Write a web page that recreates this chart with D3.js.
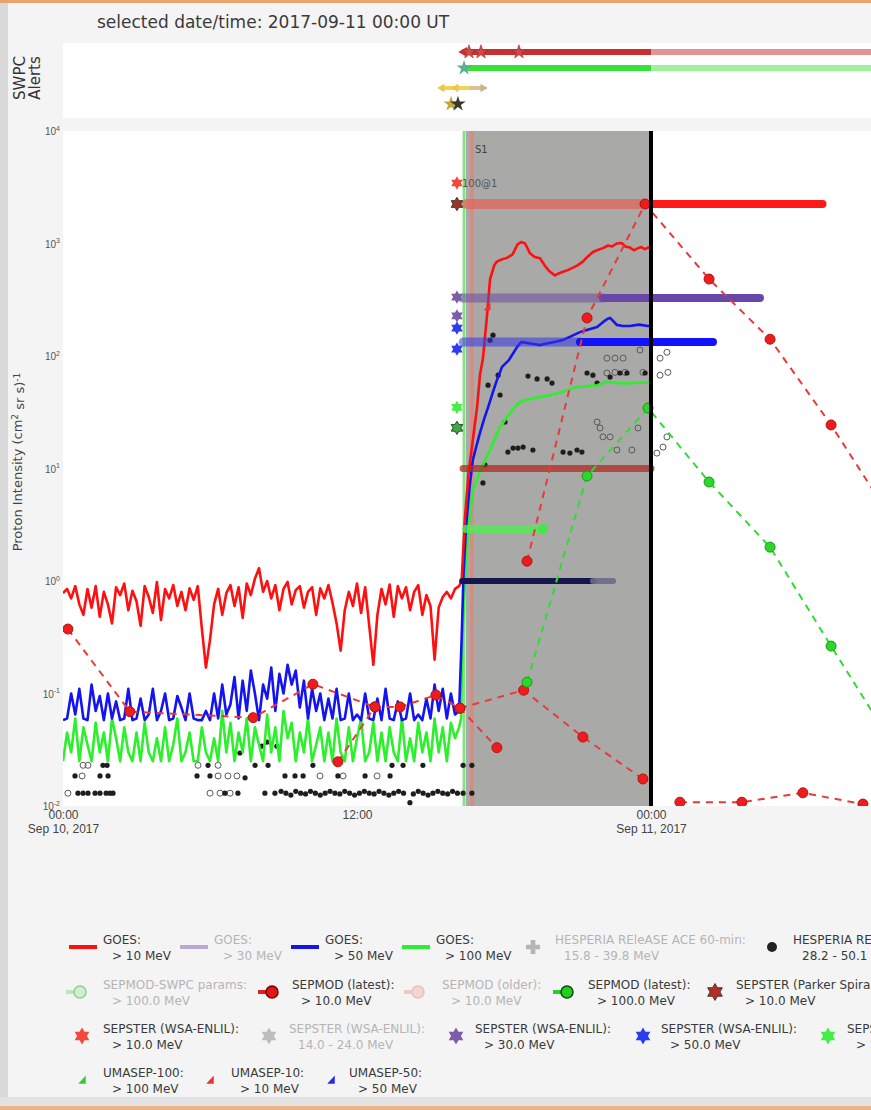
<!DOCTYPE html>
<html>
<head>
<meta charset="utf-8">
<script src="https://cdn.jsdelivr.net/npm/d3@7"></script>
<style>
  body { margin: 0; background: #f3f3f3; }
  svg { display: block; font-family: "DejaVu Sans", Verdana, sans-serif; }
</style>
</head>
<body>
<svg id="chart" width="871" height="1110"></svg>
<script>
// ---------------------------------------------------------------------------
// Proton event of 2017-09-10: observed fluxes and forecasts
// times are hours since 2017-09-10 00:00 UT, fluxes in pfu
// ---------------------------------------------------------------------------
const selectedTime = "2017-09-11 00:00 UT";

// GOES integral proton flux before onset, 10-minute samples from 00:00 UT
const goes10Quiet = [
  0.78,0.85,0.70,0.90,0.62,0.50,0.85,0.58,0.90,0.48,
  0.80,0.62,0.42,0.88,0.75,0.95,0.55,0.82,0.66,0.40,
  0.90,0.72,0.52,0.98,0.45,0.85,0.70,0.92,0.60,0.80,
  0.55,0.86,0.68,0.90,0.38,0.17,0.30,0.62,0.85,0.50,
  0.78,0.92,0.60,0.88,0.47,0.95,0.75,1.05,1.30,0.80,
  1.00,0.70,0.92,0.55,0.85,0.98,0.62,0.83,0.90,0.58,
  0.80,0.88,0.50,0.86,0.70,0.92,0.64,0.42,0.24,0.55,
  0.80,0.60,0.95,0.52,0.88,0.40,0.18,0.50,0.85,0.62,
  0.93,0.48,0.90,0.70,0.88,0.55,0.80,0.92,0.50,0.75,
  0.60,0.20,0.58,0.72,0.80,0.70,0.85,0.90
];
const goes50Quiet = [
  0.058,0.060,0.100,0.065,0.110,0.060,0.058,0.120,0.070,0.095,
  0.058,0.100,0.060,0.085,0.058,0.060,0.110,0.058,0.060,0.090,
  0.058,0.065,0.110,0.058,0.070,0.100,0.058,0.060,0.095,0.075,
  0.058,0.100,0.060,0.058,0.058,0.070,0.058,0.100,0.060,0.120,
  0.065,0.080,0.140,0.060,0.130,0.070,0.160,0.100,0.058,0.120,
  0.090,0.170,0.070,0.150,0.100,0.180,0.120,0.160,0.075,0.130,
  0.060,0.110,0.070,0.100,0.058,0.090,0.060,0.110,0.058,0.060,
  0.100,0.058,0.065,0.058,0.100,0.060,0.058,0.090,0.058,0.110,
  0.060,0.058,0.085,0.058,0.060,0.100,0.058,0.065,0.058,0.090,
  0.060,0.120,0.070,0.110,0.060,0.100,0.065,0.070
];
const goes100Quiet = [
  0.025,0.045,0.030,0.060,0.025,0.050,0.035,0.025,0.055,0.030,
  0.045,0.025,0.060,0.040,0.025,0.050,0.030,0.025,0.045,0.025,
  0.055,0.030,0.025,0.040,0.025,0.050,0.025,0.035,0.060,0.025,
  0.030,0.045,0.025,0.025,0.050,0.030,0.025,0.040,0.025,0.070,
  0.030,0.055,0.025,0.045,0.030,0.060,0.025,0.050,0.035,0.025,
  0.065,0.030,0.050,0.025,0.070,0.040,0.055,0.025,0.045,0.030,
  0.060,0.025,0.035,0.050,0.025,0.045,0.025,0.060,0.030,0.025,
  0.050,0.025,0.040,0.060,0.025,0.030,0.055,0.025,0.045,0.025,
  0.050,0.030,0.025,0.060,0.025,0.040,0.025,0.055,0.030,0.045,
  0.025,0.060,0.030,0.050,0.025,0.055,0.040,0.050
];

// GOES after onset: [hour, flux]
const goes10Event = [
  [16.27,1.0],[16.4,3.5],[16.55,9],[16.73,18],[16.9,35],[17.02,68],[17.14,95],
  [17.3,220],[17.43,480],[17.6,640],[17.71,690],[17.9,720],[18.12,745],[18.35,800],
  [18.55,980],[18.7,1030],[18.86,1000],[19.06,820],[19.25,760],[19.47,740],[19.7,620],
  [19.88,560],[20.08,520],[20.25,545],[20.41,560],[20.6,580],[20.82,610],[21.0,640],
  [21.22,690],[21.4,760],[21.63,840],[21.85,880],[22.04,910],[22.25,960],[22.41,940],
  [22.6,1000],[22.8,1010],[22.95,940],[23.14,920],[23.3,870],[23.43,900],[23.6,930],
  [23.75,890],[23.88,920],[24.0,910]
];
const goes50Event = [
  [16.27,0.3],[16.35,1.2],[16.45,3],[16.6,7],[16.73,12],[16.88,16],[17.02,20.7],
  [17.2,28],[17.35,35],[17.55,48],[17.71,61],[17.92,80],[18.2,92],[18.4,108],
  [18.53,120],[18.7,133],[18.9,131],[19.2,128],[19.47,125],[19.8,130],[20.1,134],
  [20.41,139],[20.75,150],[21.1,163],[21.45,172],[21.8,181],[22.04,200],[22.2,212],
  [22.33,218],[22.5,200],[22.6,189],[22.85,185],[23.14,185],[23.5,190],[23.88,185],
  [24.0,186]
];
const goes100Event = [
  [16.25,0.06],[16.3,0.3],[16.45,1.6],[16.6,3.8],[16.73,6.4],[17.02,9.4],[17.25,12],
  [17.43,14.6],[17.65,19],[17.84,23.4],[18.04,27],[18.24,31],[18.45,35],[18.57,38],
  [18.86,40.5],[19.2,42],[19.47,43],[19.9,45],[20.4,48],[20.7,51],[20.98,53],
  [21.4,54],[21.8,55],[22.2,58.8],[22.6,57.5],[23.0,57],[23.5,58],[24.0,58]
];

// HESPERIA REleASE forecasts: [hour, flux]
const hesperiaFilled = [
  [1.63,0.023],[1.8,0.023],[5.92,0.023],[7.84,0.023],[8.37,0.023],[10.2,0.023],
  [13.43,0.023],[13.88,0.023],[14.69,0.023],
  [7.22,0.0296],[8.12,0.034],[8.33,0.037],[8.73,0.034],
  [0.49,0.0185],[1.51,0.0185],[1.84,0.0185],[5.47,0.0185],[6.0,0.0185],[7.43,0.0178],
  [9.06,0.0185],[9.47,0.0185],[9.8,0.0185],[11.22,0.0185],[12.33,0.0185],[13.35,0.0185],
  [0.61,0.013],[0.82,0.013],[1.02,0.013],[1.31,0.013],[1.51,0.013],[1.76,0.013],
  [1.92,0.013],[2.04,0.013],[6.61,0.013],[7.14,0.013],[8.24,0.013],
  [8.65,0.013],[8.9,0.0135],[9.1,0.013],[9.3,0.0125],[9.5,0.0135],[9.7,0.013],
  [9.9,0.0128],[10.1,0.0135],[10.3,0.013],[10.5,0.0125],[10.7,0.013],[10.9,0.0135],
  [11.1,0.013],[11.3,0.0128],[11.5,0.0135],[11.7,0.013],[11.9,0.0125],[12.1,0.013],
  [12.3,0.0135],[12.5,0.013],[12.7,0.0128],[12.9,0.0135],[13.1,0.013],[13.3,0.0125],
  [13.5,0.013],[13.7,0.0135],[13.9,0.013],[14.16,0.0107],[14.3,0.0128],[14.5,0.0135],
  [14.7,0.013],[14.9,0.0125],[15.1,0.013],[15.3,0.0135],[15.5,0.013],[15.7,0.0128],
  [15.9,0.0135],[16.1,0.013],
  [16.33,0.023],[16.69,0.023],[16.33,0.013],[16.69,0.013],
  [17.22,10.75],[17.14,7.44],[18.04,25.9],[17.84,45],[17.35,55],[17.76,67.5],
  [18.98,66.3],[19.35,62.5],[19.76,62.5],[19.96,57.5],[21.39,70.6],[21.63,67.5],
  [21.8,57.5],[22.33,65],[22.73,70.6],[23.02,70.6],[23.76,70.6],
  [18.16,14.0],[18.37,15.2],[18.57,15.2],[18.78,15.5],[19.18,14.6],[20.41,14.0],
  [20.69,13.7],[20.98,14.6],[21.18,14.0],[17.55,153],[17.43,138]
];
const hesperiaOpen = [
  [0.82,0.023],[1.02,0.023],[5.51,0.023],[6.33,0.023],
  [0.78,0.0185],[6.33,0.0185],[6.73,0.0185],[7.1,0.0185],[10.49,0.0185],[11.43,0.0185],
  [12.82,0.0185],
  [0.2,0.013],[6.0,0.013],[6.41,0.013],[6.82,0.013],
  [22.2,95.7],[22.53,95.7],[22.86,95.7],[23.55,113],[24.37,95.7],[24.65,108],
  [21.8,25.9],[21.92,22.9],[22.04,19.1],[22.33,19.1],[23.47,22.9],[24.65,19.1],
  [22.61,14.6],[23.22,14.6],[24.24,13.7],[24.49,15.5],
  [22.2,70.6],[22.53,71.5],[22.94,71.5],[23.67,71.5],[24.37,67.5],[24.69,71.5]
];

// SEPMOD runs, > 10 MeV: each run is a list of [hour, flux]
const sepmod10Runs = [
  [[0.2,0.374],[2.73,0.069],[7.76,0.061],[10.2,0.121],[12.73,0.076]],
  [[11.22,0.0247],[12.73,0.076],[13.76,0.076],[15.22,0.097],[16.2,0.074],[17.71,0.033]],
  [[16.2,0.074],[18.8,0.107],[21.22,0.041],[23.67,0.0174]],
  [[25.18,0.0108],[27.71,0.0108],[30.2,0.0131],[32.65,0.0104]],
  [[18.94,1.5],[21.39,218],[23.76,2245],[26.37,483],[28.86,141],[31.35,24.4],[33.84,3.5]]
];
// SEPMOD latest run, > 100 MeV
const sepmod100Latest = [
  [18.94,0.126],[21.39,8.58],[23.88,34.5],[26.37,7.59],[28.86,2.0],[31.35,0.264],[33.84,0.036]
];

// SEPSTER peak predictions at the CME time: [hour, flux]
const sepsterParker10 = [[16.08,2245]];
const sepsterEnlil10 = [[16.08,3450]];
const sepsterEnlil30 = [[16.08,334],[16.08,227]];
const sepsterEnlil50 = [[16.08,177],[16.08,115]];
const sepsterEnlil100 = [[16.08,35]];
const sepsterParker100 = [[16.08,23]];
const umasep10 = [[17.31,273]];

// forecast windows and thresholds: [start hour, end hour, flux]
const bar10Older = [16.49, 23.7, 2245];
const bar10Latest = [23.7, 31.0, 2245];
const bar30Older = [16.29, 22.04, 328];
const bar30Latest = [22.04, 28.45, 328];
const bar50Older = [16.33, 21.1, 133];
const bar50Latest = [21.1, 26.53, 133];
const barS1 = [16.33, 24.0, 10];
const bar100 = [16.45, 19.59, 2.9];
const barOnset = [16.29, 21.63, 1];
const barOnsetTail = [21.63, 22.45, 1];

// event markers
const cmeTime = 16.37;
const onsetTime = 16.69;
const windowStart = 16.45;

// SWPC alerts
const alertS1 = [16.37, 24.0];
const alertS1Stars = [16.57, 17.06, 18.61];
const alertP100 = [16.37, 24.0];
const alertP100Stars = [16.37];
const alertElectron = [15.47, 16.6, 17.14];
const alertStars = [15.84, 16.12];

// axis ticks
const yTicks = [1e-2, 1e-1, 1e0, 1e1, 1e2, 1e3, 1e4];
const xTickHours = [0, 12, 24];
const xTickLabels = [["00:00", "Sep 10, 2017"], ["12:00", ""], ["00:00", "Sep 11, 2017"]];

// legend texts: [title, energy range, shown]
const legendRow1 = [
  ["GOES:", "> 10 MeV", true], ["GOES:", "> 30 MeV", false], ["GOES:", "> 50 MeV", true],
  ["GOES:", "> 100 MeV", true], ["HESPERIA REleASE ACE 60-min:", "15.8 - 39.8 MeV", false],
  ["HESPERIA REleASE ACE 30-min:", "28.2 - 50.1 MeV", true]
];
const legendRow2 = [
  ["SEPMOD-SWPC params:", "> 100.0 MeV", false], ["SEPMOD (latest):", "> 10.0 MeV", true],
  ["SEPMOD (older):", "> 10.0 MeV", false], ["SEPMOD (latest):", "> 100.0 MeV", true],
  ["SEPSTER (Parker Spiral):", "> 10.0 MeV", true]
];
const legendRow3 = [
  ["SEPSTER (WSA-ENLIL):", "> 10.0 MeV", true], ["SEPSTER (WSA-ENLIL):", "14.0 - 24.0 MeV", false],
  ["SEPSTER (WSA-ENLIL):", "> 30.0 MeV", true], ["SEPSTER (WSA-ENLIL):", "> 50.0 MeV", true],
  ["SEPSTER (WSA-ENLIL):", "> 100.0 MeV", true]
];
const legendRow4 = [
  ["UMASEP-100:", "> 100 MeV", true], ["UMASEP-10:", "> 10 MeV", true], ["UMASEP-50:", "> 50 MeV", true]
];

// ---------------------------------------------------------------------------
const BASE = Date.UTC(2017, 8, 10);
const T = h => new Date(BASE + h * 3600e3);

const svg = d3.select("#chart");
const W = 871, H = 1110;
const plotL = 63, plotT = 131, plotB = 806;

const x = d3.scaleUtc().domain([T(0), T(33)]).range([plotL, plotL + 33 * 24.5]);
const y = d3.scaleLog().domain([1e-2, 1e4]).range([plotB, plotT]);
const alertY = d3.scaleLinear().domain([0, 6]).range([132, 36]);

const C = { red: "#ff1010", blue: "#1414f0", green: "#2cf02c", faded: "#b4b4b4" };

// frame
svg.append("rect").attr("width", W).attr("height", H).attr("fill", "#f4f4f4");
svg.append("rect").attr("x", 0).attr("y", 0).attr("width", 8).attr("height", H).attr("fill", "#dadada");
svg.append("rect").attr("x", 0).attr("y", 0).attr("width", W).attr("height", 3).attr("fill", "#e9a46b");
svg.append("rect").attr("x", 0).attr("y", 1097).attr("width", W).attr("height", 9).attr("fill", "#e2e2e2");
svg.append("rect").attr("x", 0).attr("y", 1106).attr("width", W).attr("height", 4).attr("fill", "#eab48a");

// six-pointed star marker
const symbolHexStar = {
  draw(ctx, size) {
    const r = Math.sqrt(size / 1.4), ri = r * 0.58;
    for (let i = 0; i < 12; i++) {
      const a = Math.PI / 6 * i - Math.PI / 2, rr = i % 2 ? ri : r;
      const px = rr * Math.cos(a), py = rr * Math.sin(a);
      i ? ctx.lineTo(px, py) : ctx.moveTo(px, py);
    }
    ctx.closePath();
  }
};
// small right-angled triangle marker
const symbolWedge = {
  draw(ctx, size) {
    const s = Math.sqrt(size) * 0.8;
    ctx.moveTo(-s, s); ctx.lineTo(s, s); ctx.lineTo(s, -s * 1.2); ctx.closePath();
  }
};
const star = d3.symbol().type(symbolHexStar);
const wedge = d3.symbol().type(symbolWedge);

// ---------------- title and alerts panel ----------------
svg.append("text").attr("x", 97).attr("y", 28).attr("fill", "#3a3a3a")
  .attr("font-size", 17).text("selected date/time: " + selectedTime);

svg.append("rect").attr("x", plotL).attr("y", 43).attr("width", W - plotL).attr("height", 75).attr("fill", "#fff");
const alertLabel = svg.append("text").attr("transform", "translate(25,78) rotate(-90)")
  .attr("text-anchor", "middle").attr("fill", "#333").attr("font-size", 15);
alertLabel.append("tspan").attr("x", 0).attr("dy", 0).text("SWPC");
alertLabel.append("tspan").attr("x", 0).attr("dy", 15).text("Alerts");

const alerts = svg.append("g");
function alertBar(span, level, strong, light, width) {
  const yy = alertY(level);
  alerts.append("line").attr("x1", x(T(span[1]))).attr("x2", W).attr("y1", yy).attr("y2", yy)
    .attr("stroke", light).attr("stroke-width", width);
  alerts.append("line").attr("x1", x(T(span[0]))).attr("x2", x(T(span[1]))).attr("y1", yy).attr("y2", yy)
    .attr("stroke", strong).attr("stroke-width", width);
}
alertBar(alertS1, 5, "#c73030", "#e29494", 6);
alerts.append("path").attr("d", d3.symbol().type(d3.symbolTriangle).size(45)())
  .attr("transform", `translate(${x(T(alertS1[0]))},${alertY(5)}) rotate(-90)`).attr("fill", "#c73030");
alertS1Stars.forEach(h => alerts.append("path").attr("d", d3.symbol().type(d3.symbolStar).size(60)())
  .attr("transform", `translate(${x(T(h))},${alertY(5)})`).attr("fill", "#d04848").attr("stroke", "#a03030").attr("stroke-width", 0.6));
alertBar(alertP100, 4, "#36e236", "#9cf29c", 6);
alertP100Stars.forEach(h => alerts.append("path").attr("d", d3.symbol().type(d3.symbolStar).size(70)())
  .attr("transform", `translate(${x(T(h))},${alertY(4)})`).attr("fill", "#58b090"));
{
  const yy = alertY(2.75);
  alerts.append("line").attr("x1", x(T(alertElectron[0]))).attr("x2", x(T(alertElectron[1])))
    .attr("y1", yy).attr("y2", yy).attr("stroke", "#eed35a").attr("stroke-width", 4);
  alerts.append("line").attr("x1", x(T(alertElectron[1]))).attr("x2", x(T(alertElectron[2])))
    .attr("y1", yy).attr("y2", yy).attr("stroke", "#d7c191").attr("stroke-width", 4);
  [alertElectron[0], (alertElectron[0] + alertElectron[1]) / 2].forEach(h =>
    alerts.append("path").attr("d", d3.symbol().type(d3.symbolTriangle).size(30)())
      .attr("transform", `translate(${x(T(h))},${yy}) rotate(-90)`).attr("fill", "#e8c940"));
  alerts.append("path").attr("d", d3.symbol().type(d3.symbolTriangle).size(30)())
    .attr("transform", `translate(${x(T(alertElectron[2]))},${yy}) rotate(90)`).attr("fill", "#c9b48a");
}
alertStars.forEach((h, i) => alerts.append("path").attr("d", d3.symbol().type(d3.symbolStar).size(75)())
  .attr("transform", `translate(${x(T(h))},${alertY(1.75)})`)
  .attr("fill", i ? "#3a3a2a" : "#c9a43a"));

// ---------------- main plot ----------------
const clip = svg.append("clipPath").attr("id", "plotclip");
clip.append("rect").attr("x", plotL).attr("y", plotT).attr("width", W - plotL).attr("height", plotB - plotT);
svg.append("rect").attr("x", plotL).attr("y", plotT).attr("width", W - plotL).attr("height", plotB - plotT).attr("fill", "#fff");

const plot = svg.append("g").attr("clip-path", "url(#plotclip)");

// selected window up to the chosen time
plot.append("rect").attr("x", x(T(windowStart))).attr("y", plotT)
  .attr("width", x(T(24)) - x(T(windowStart))).attr("height", plotB - plotT).attr("fill", "#a9a9a7");
plot.append("line").attr("x1", x(T(cmeTime))).attr("x2", x(T(cmeTime))).attr("y1", plotT).attr("y2", plotB)
  .attr("stroke", "#86e086").attr("stroke-width", 3);
plot.append("line").attr("x1", x(T(onsetTime))).attr("x2", x(T(onsetTime))).attr("y1", plotT).attr("y2", plotB)
  .attr("stroke", "#d98a80").attr("stroke-width", 4).attr("opacity", 0.85);

// HESPERIA points
plot.append("g").selectAll("circle").data(hesperiaOpen).join("circle")
  .attr("cx", d => x(T(d[0]))).attr("cy", d => y(d[1])).attr("r", 3)
  .attr("fill", "none").attr("stroke", "#5a5a5a").attr("stroke-width", 1);
plot.append("g").selectAll("circle").data(hesperiaFilled).join("circle")
  .attr("cx", d => x(T(d[0]))).attr("cy", d => y(d[1])).attr("r", 2.6).attr("fill", "#1e1e1e");

// GOES fluxes
const line = d3.line().x(d => x(T(d[0]))).y(d => y(d[1]));
const withQuiet = (quiet, ev) => quiet.map((v, i) => [i / 6, v]).concat(ev);
[[goes100Quiet, goes100Event, C.green], [goes50Quiet, goes50Event, C.blue], [goes10Quiet, goes10Event, C.red]]
  .forEach(([q, e, c]) => plot.append("path").datum(withQuiet(q, e)).attr("d", line)
    .attr("fill", "none").attr("stroke", c).attr("stroke-width", 2.6).attr("stroke-linejoin", "round"));

// forecast windows and thresholds
function bar(b, color, width, opacity) {
  plot.append("line").attr("x1", x(T(b[0]))).attr("x2", x(T(b[1])))
    .attr("y1", y(b[2])).attr("y2", y(b[2])).attr("stroke", color).attr("stroke-width", width)
    .attr("stroke-opacity", opacity).attr("stroke-linecap", "round");
}
bar(bar10Older, "#e2685c", 10, 0.78);
bar(bar10Latest, "#ff1a1a", 8, 1);
bar(bar30Older, "#6a4a9c", 9, 0.55);
bar(bar30Latest, "#6a46a8", 8, 1);
bar(bar50Older, "#3434e8", 9, 0.55);
bar(bar50Latest, "#1212ff", 8, 1);
bar(barS1, "#b02a22", 7, 0.75);
bar(bar100, "#52ec52", 8, 0.8);
bar(barOnset, "#15154f", 6, 1);
bar(barOnsetTail, "#6a6a88", 6, 0.9);
plot.append("circle").attr("cx", x(T(bar100[1]))).attr("cy", y(bar100[2])).attr("r", 5).attr("fill", "#46e646");

// SEPMOD runs
const dashed = (data, color) => plot.append("path").datum(data).attr("d", line).attr("fill", "none")
  .attr("stroke", color).attr("stroke-width", 2).attr("stroke-dasharray", "7,6");
const dots = (data, fill, stroke) => plot.append("g").selectAll("circle").data(data).join("circle")
  .attr("cx", d => x(T(d[0]))).attr("cy", d => y(d[1])).attr("r", 5)
  .attr("fill", fill).attr("stroke", stroke).attr("stroke-width", 1);
sepmod10Runs.forEach(run => dashed(run, "#e83a3a"));
dashed(sepmod100Latest, "#35d935");
sepmod10Runs.forEach(run => dots(run, "#ee1c1c", "#b41414"));
dots(sepmod100Latest, "#2bd72b", "#1b9a1b");

// SEPSTER and UMASEP markers
const stars = (data, fill, stroke, size) => plot.append("g").selectAll("path").data(data).join("path")
  .attr("d", star.size(size)()).attr("transform", d => `translate(${x(T(d[0]))},${y(d[1])})`)
  .attr("fill", fill).attr("stroke", stroke || "none").attr("stroke-width", 1);
stars(sepsterEnlil10, "#f2493a", null, 62);
stars(sepsterParker10, "#a0302a", "#3a3a2a", 62);
stars(sepsterEnlil30, "#7b5eaa", null, 62);
stars(sepsterEnlil50, "#2c3cf0", null, 62);
stars(sepsterEnlil100, "#44ee44", null, 62);
stars(sepsterParker100, "#3fa83f", "#2c4c2c", 62);
plot.append("g").selectAll("path").data(umasep10).join("path").attr("d", wedge.size(18)())
  .attr("transform", d => `translate(${x(T(d[0]))},${y(d[1])})`).attr("fill", "#f03030");

// selected time
plot.append("line").attr("x1", x(T(24))).attr("x2", x(T(24))).attr("y1", plotT).attr("y2", plotB)
  .attr("stroke", "#000").attr("stroke-width", 4);

plot.append("text").attr("x", x(T(onsetTime)) + 3).attr("y", 153).attr("font-size", 10).attr("fill", "#444").text("S1");
plot.append("text").attr("x", x(T(sepsterEnlil10[0][0])) + 5).attr("y", y(sepsterEnlil10[0][1]) + 4)
  .attr("font-size", 10).attr("fill", "#555").text("100@1");

// ---------------- axes ----------------
const yAxis = svg.append("g").attr("transform", `translate(${plotL - 3},0)`)
  .call(d3.axisLeft(y).tickValues(yTicks).tickSize(0).tickFormat(""));
yAxis.select(".domain").remove();
yAxis.selectAll(".tick").each(function (d) {
  const t = d3.select(this).append("text").attr("x", 0).attr("dy", "0.35em")
    .attr("text-anchor", "end").attr("fill", "#555").attr("font-size", 10);
  const e = Math.round(Math.log10(d));
  t.append("tspan").text("10");
  t.append("tspan").attr("font-size", 7).attr("dy", "-0.6em").text(String(e));
});

const xAxis = svg.append("g").attr("transform", `translate(0,${plotB})`)
  .call(d3.axisBottom(x).tickValues(xTickHours.map(T)).tickSize(0).tickFormat(""));
xAxis.select(".domain").remove();
xAxis.selectAll(".tick").each(function (d, i) {
  const t = d3.select(this).append("text").attr("text-anchor", "middle").attr("fill", "#444").attr("font-size", 12);
  t.append("tspan").attr("x", 0).attr("y", 13).text(xTickLabels[i][0]);
  t.append("tspan").attr("x", 0).attr("y", 27).text(xTickLabels[i][1]);
});

const yTitle = svg.append("text").attr("transform", "translate(22,462) rotate(-90)")
  .attr("text-anchor", "middle").attr("fill", "#444").attr("font-size", 13);
yTitle.append("tspan").text("Proton Intensity (cm");
yTitle.append("tspan").attr("font-size", 9).attr("dy", "-0.5em").text("2");
yTitle.append("tspan").attr("dy", "0.5em").text(" sr s)");
yTitle.append("tspan").attr("font-size", 9).attr("dy", "-0.5em").text("-1");

// ---------------- legend ----------------
const legend = svg.append("g").attr("font-size", 12);
const rowY = [947, 992, 1036, 1080];
function legendItem(row, cx, tx, entry, drawSymbol) {
  const yy = rowY[row];
  const g = legend.append("g").attr("opacity", entry[2] ? 1 : 0.5);
  drawSymbol(g, cx, yy);
  const t = legend.append("text").attr("fill", entry[2] ? "#3a3a3a" : C.faded);
  t.append("tspan").attr("x", tx).attr("y", yy - 3).text(entry[0]);
  t.append("tspan").attr("x", tx + 9).attr("y", yy + 13).text(entry[1]);
}
const symLine = c => (g, cx, yy) => g.append("line").attr("x1", cx - 14).attr("x2", cx + 14)
  .attr("y1", yy).attr("y2", yy).attr("stroke", c).attr("stroke-width", 4);
const symDashDot = (c, fill, stroke) => (g, cx, yy) => {
  g.append("line").attr("x1", cx - 14).attr("x2", cx - 2).attr("y1", yy).attr("y2", yy)
    .attr("stroke", c).attr("stroke-width", 4);
  g.append("circle").attr("cx", cx).attr("cy", yy).attr("r", 6).attr("fill", fill)
    .attr("stroke", stroke).attr("stroke-width", 1.5);
};
const symStar = (fill, stroke) => (g, cx, yy) => g.append("path").attr("d", star.size(100)())
  .attr("transform", `translate(${cx},${yy})`).attr("fill", fill).attr("stroke", stroke || "none");
const symWedge = c => (g, cx, yy) => g.append("path").attr("d", wedge.size(22)())
  .attr("transform", `translate(${cx},${yy})`).attr("fill", c);

legendItem(0, 83, 103, legendRow1[0], symLine(C.red));
legendItem(0, 194, 214, legendRow1[1], symLine("#7d62b0"));
legendItem(0, 305, 325, legendRow1[2], symLine(C.blue));
legendItem(0, 416, 436, legendRow1[3], symLine(C.green));
legendItem(0, 533, 555, legendRow1[4], (g, cx, yy) => g.append("path")
  .attr("d", d3.symbol().type(d3.symbolCross).size(110)()).attr("transform", `translate(${cx},${yy})`).attr("fill", "#777"));
legendItem(0, 772, 793, legendRow1[5], (g, cx, yy) => g.append("circle").attr("cx", cx).attr("cy", yy).attr("r", 5).attr("fill", "#222"));

legendItem(1, 80, 103, legendRow2[0], symDashDot("#7ee27e", "#a8f0a8", "#40a040"));
legendItem(1, 272, 292, legendRow2[1], symDashDot("#e02020", "#e01818", "#700"));
legendItem(1, 418, 442, legendRow2[2], symDashDot("#f0a0a0", "#f5b5b5", "#e08c8c"));
legendItem(1, 567, 588, legendRow2[3], symDashDot("#2ad02a", "#22d022", "#0a4a0a"));
legendItem(1, 715, 736, legendRow2[4], symStar("#b03028", "#4a3a30"));

legendItem(2, 82, 103, legendRow3[0], symStar("#f2493a"));
legendItem(2, 269, 289, legendRow3[1], symStar("#888"));
legendItem(2, 456, 475, legendRow3[2], symStar("#7b5eaa"));
legendItem(2, 643, 661, legendRow3[3], symStar("#2c3cf0"));
legendItem(2, 828, 847, legendRow3[4], symStar("#44ee44"));

legendItem(3, 82, 103, legendRow4[0], symWedge("#33cc33"));
legendItem(3, 210, 231, legendRow4[1], symWedge("#ee3333"));
legendItem(3, 331, 349, legendRow4[2], symWedge("#2a2ae0"));
</script>
</body>
</html>
